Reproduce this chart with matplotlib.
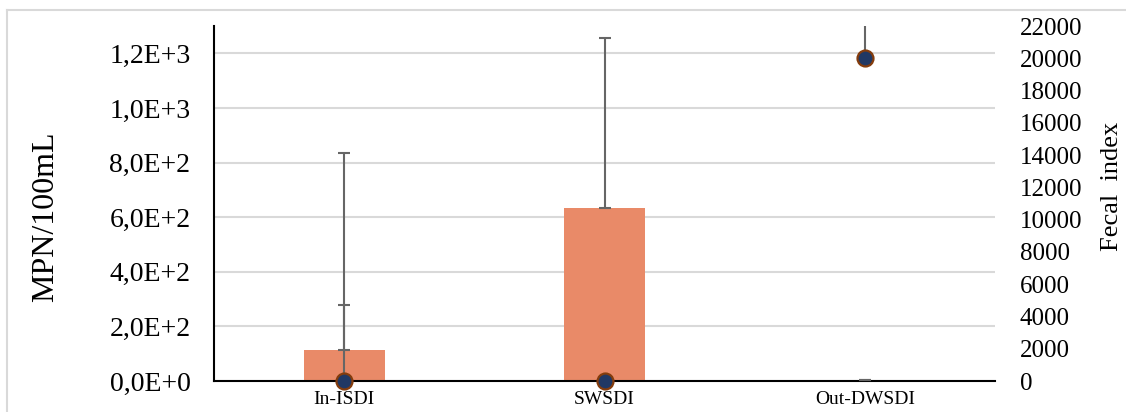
import matplotlib.pyplot as plt
from matplotlib.lines import Line2D
import numpy as np

# data
sites = ["In-ISDI", "SWSDI", "Out-DWSDI"]
mpn = [113, 632, 2]              # MPN/100mL (bars, left axis)
mpn_err_plus = [165, 623, 0]
fecal = [0, 0, 20000]            # fecal index (points, right axis)
fecal_err_plus = [14100, 0, 4000]

left_ticks = [0, 200, 400, 600, 800, 1000, 1200]
left_labels = ["0,0E+0", "2,0E+2", "4,0E+2", "6,0E+2", "8,0E+2", "1,0E+3", "1,2E+3"]
right_ticks = list(range(0, 22001, 2000))

plt.rcParams['font.family'] = ['Liberation Serif', 'DejaVu Serif']

fig = plt.figure(figsize=(11.26, 4.12), dpi=100)
ax = fig.add_axes([214/1126, 31/412, 781/1126, 355/412])
ax2 = ax.twinx()

x = np.arange(len(sites))
err_col = "#666666"

ax.bar(x, mpn, width=0.31, color="#E98A68", zorder=2)
ax.errorbar(x, mpn, yerr=[np.zeros(3), mpn_err_plus], fmt="none", ecolor=err_col,
            elinewidth=1.5, capsize=4.5, capthick=1.5, zorder=3)

ax2.errorbar(x, fecal, yerr=[np.zeros(3), fecal_err_plus], fmt="none", ecolor=err_col,
             elinewidth=1.5, capsize=4.5, capthick=1.5, zorder=3)
ax2.plot(x, fecal, "o", ms=11.5, mfc="#203864", mec="#843C0C", mew=1.6,
         linestyle="none", zorder=4, clip_on=False)

ax.set_xlim(-0.5, 2.5)
ax.set_ylim(0, 1300)
ax2.set_ylim(0, 22000)

ax.set_yticks(left_ticks)
ax.set_yticklabels(left_labels, fontsize=20)
ax.grid(axis="y", color="#D9D9D9", linewidth=1.5, zorder=0)
ax.set_axisbelow(True)
ax.set_xticks(x)
ax.set_xticklabels(sites, fontsize=14)

ax2.set_yticks(right_ticks)
ax2.set_yticklabels([str(t) for t in right_ticks], fontsize=18)

ax.tick_params(axis="y", length=0, pad=17)
ax.tick_params(axis="x", length=0, pad=7)
ax2.tick_params(axis="y", length=0, pad=18)

for a in (ax, ax2):
    a.spines["top"].set_visible(False)
    a.spines["right"].set_visible(False)
ax2.spines["left"].set_visible(False)
ax2.spines["bottom"].set_visible(False)
ax.spines["left"].set_linewidth(1.5)
ax.spines["bottom"].set_linewidth(1.5)

fig.text(46/1126, 1 - 217/412, "MPN/100mL", rotation=90, fontsize=23,
         ha="center", va="center")
fig.text(1112/1126, 1 - 186/412, "Fecal  index", rotation=90, fontsize=19,
         ha="center", va="center")

# chart area border
fig.add_artist(Line2D([7/1126, 7/1126], [0, 1 - 10/412], color="#D9D9D9", lw=1.5))
fig.add_artist(Line2D([7/1126, 1], [1 - 10/412, 1 - 10/412], color="#D9D9D9", lw=1.5))

fig.savefig("out.png", dpi=100)
